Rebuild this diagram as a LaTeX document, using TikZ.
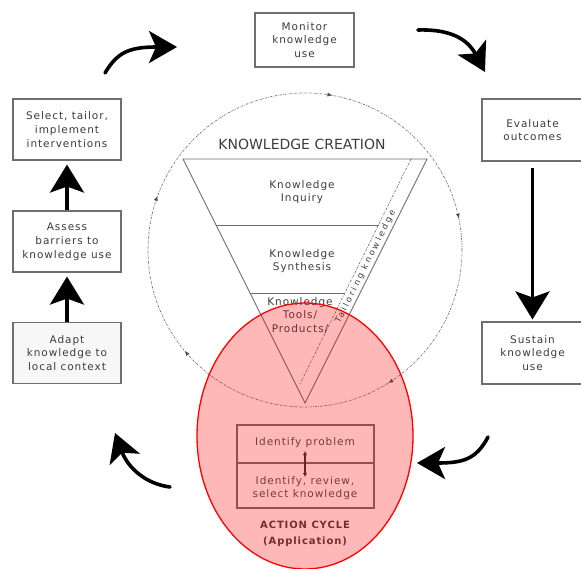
\documentclass[tikz,border=0pt]{standalone}
\usepackage{fontspec}
\setmainfont{DejaVu Sans}
\newfontfamily\boxfont[LetterSpace=9]{DejaVu Sans}
\newfontfamily\tailfont[LetterSpace=28]{DejaVu Sans}
\usetikzlibrary{arrows.meta,decorations.markings}
\definecolor{txt}{RGB}{60,60,60}
\definecolor{edge}{RGB}{110,110,110}
\tikzset{
  stepbox/.style={draw=edge, line width=1.1pt, fill=white, minimum width=108pt, minimum height=61pt, align=center, text=txt, font=\boxfont\fontsize{10.5}{13.8}\selectfont, inner sep=1pt},
  bigarrow/.style={line width=3.4pt, -{Stealth[length=28pt,width=34pt,inset=6pt]}},
  curvarrow/.style={line width=3.6pt, line cap=round, -{Stealth[length=28pt,width=32pt,inset=7pt]}},
  ftext/.style={text=txt, align=center, font=\boxfont\fontsize{10.5}{13.5}\selectfont},
  funnel/.style={draw=edge, line width=0.9pt},
}
\begin{document}
\begin{tikzpicture}[x=1pt,y=1pt]
\useasboundingbox (0,0) rectangle (581,568);
% dotted cycle circle
\draw[edge, line width=0.7pt, dash pattern=on 2pt off 1.2pt on 0.6pt off 1.2pt,
  postaction={decorate, decoration={markings,
    mark=at position 0.032 with {\arrowreversed[black!70]{Latex[length=5pt,width=4pt]}},
    mark=at position 0.222 with {\arrowreversed[black!70]{Latex[length=5pt,width=4pt]}},
    mark=at position 0.444 with {\arrowreversed[black!70]{Latex[length=5pt,width=4pt]}},
    mark=at position 0.611 with {\arrowreversed[black!70]{Latex[length=5pt,width=4pt]}},
    mark=at position 0.839 with {\arrowreversed[black!70]{Latex[length=5pt,width=4pt]}}}}]
  (305,318) circle (157);
% boxes
\node[stepbox, minimum width=99pt, minimum height=54pt] (monitor) at (304.5,528) {Monitor\\knowledge\\use};
\node[stepbox, minimum width=101pt, minimum height=62pt] (evaluate) at (532.5,438) {Evaluate\\outcomes};
\node[stepbox, minimum width=101pt, minimum height=62pt] (sustain) at (532.5,215) {Sustain\\knowledge\\use};
\node[stepbox] (select) at (67,438.5) {Select, tailor,\\implement\\interventions};
\node[stepbox] (assess) at (67,326.5) {Assess\\barriers to\\knowledge use};
\node[stepbox, fill=black!3] (adapt) at (67,215) {Adapt\\knowledge to\\local context};
% straight arrows
\draw[bigarrow, shorten >=4pt] (adapt.north) -- (assess.south);
\draw[bigarrow, shorten >=4pt] (assess.north) -- (select.south);
\draw[bigarrow, shorten <=6pt, shorten >=2pt] (evaluate.south) -- (sustain.north);
% curved arrows
\coordinate (tl1) at (105,495); \coordinate (tl2) at (177,521);
\coordinate (tr1) at (418,538); \coordinate (tr2) at (485,496);
\coordinate (br1) at (488,131); \coordinate (br2) at (417,105);
\coordinate (bl1) at (170,81);  \coordinate (bl2) at (115,135);
\draw[curvarrow] (tl1) .. controls (117,515) and (128,521) .. (tl2);
\draw[curvarrow] (tr1) .. controls (452,539) and (468,528) .. (tr2);
\draw[curvarrow] (br1) .. controls (476,108) and (462,105) .. (br2);
\draw[curvarrow] (bl1) .. controls (146,84) and (128,100) .. (bl2);
% knowledge creation funnel
\node[text=txt, font=\fontsize{14}{16}\selectfont] (kc) at (302,424) {KNOWLEDGE CREATION};
\coordinate (ftl) at (183,409); \coordinate (ftr) at (427,409); \coordinate (fap) at (305,165);
\coordinate (din) at (411,409); \coordinate (dend) at (300,184);
\draw[funnel] (ftl) -- (ftr) -- (fap) -- cycle;
\draw[edge, line width=0.7pt, dash pattern=on 2pt off 1.2pt on 0.6pt off 1.2pt] (din) -- (dend);
\coordinate (l1a) at (216,343); \coordinate (l1b) at (379,343);
\coordinate (l2a) at (250,275); \coordinate (l2b) at (345,275);
\draw[funnel] (l1a) -- (l1b);
\draw[funnel] (l2a) -- (l2b);
\node[ftext] (inq) at (302,376) {Knowledge\\Inquiry};
\node[ftext] (syn) at (302,307) {Knowledge\\Synthesis};
\node[ftext] (tools) at (300,253) {Knowledge\\Tools/\\Products/};
\node[text=txt, font=\tailfont\fontsize{8.5}{10}\selectfont, rotate=63.5, inner sep=0pt] (tail) at (365.5,301) {Tailoring knowledge};
% action cycle
\node[draw=edge, line width=1.1pt, minimum width=137pt, minimum height=83pt] (acbox) at (305.5,101.5) {};
\draw[edge, line width=1.1pt] (acbox.west |- 0,105) coordinate (dw) -- (acbox.east |- 0,105) coordinate (de);
\node[ftext, text=black!70] (idp) at (305,125) {Identify problem};
\node[ftext, text=black!70] (ids) at (305,80) {Identify, review,\\select knowledge};
\coordinate (da1) at (305,117); \coordinate (da2) at (305,91);
\draw[black!80, line width=1.4pt, {Latex[length=4pt,width=4.5pt]}-{Latex[length=4pt,width=4.5pt]}] (da1) -- (da2);
\node[text=black!75, align=center, font=\boxfont\bfseries\fontsize{10}{16}\selectfont] (act) at (305,34) {ACTION CYCLE\\(Application)};
\fill[red, fill opacity=0.28] (305,132) ellipse [x radius=108, y radius=133];
\draw[red, line width=1.3pt] (305,132) ellipse [x radius=108, y radius=133];
\end{tikzpicture}
\end{document}
